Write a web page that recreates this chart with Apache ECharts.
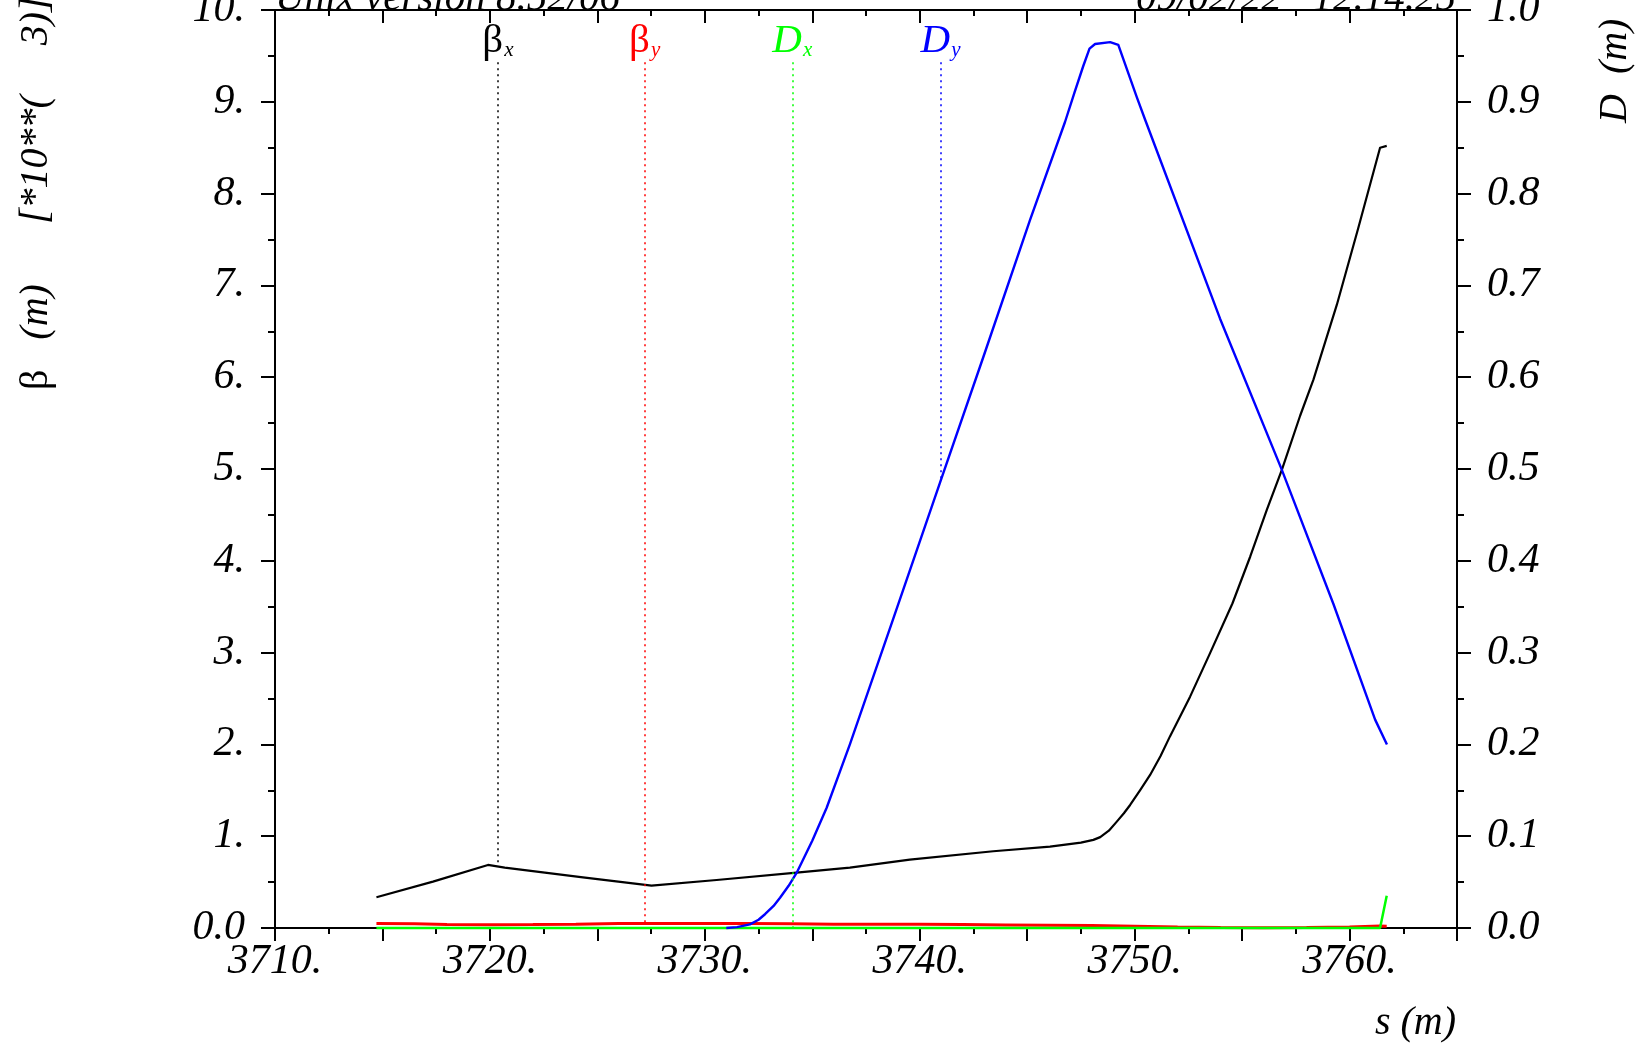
<!DOCTYPE html>
<html>
<head>
<meta charset="utf-8">
<script src="https://cdn.jsdelivr.net/npm/echarts@6/dist/echarts.min.js"></script>
<style>
html,body{margin:0;padding:0;background:#fff;}
#c{width:1648px;height:1044px;}
</style>
</head>
<body>
<div id="c"></div>
<script>
// ---- data (s in m; beta in 10^3 m; D in m) ----
const sBetx = [3714.72,3717.35,3719.91,3720.69,3724.33,3727.52,3730.55,3734.27,3736.75,3739.54,3743.42,3746.06,3747.5,3748.08,3748.4,3748.8,3749.17,3749.5,3749.79,3750.25,3750.72,3751.2,3751.65,3752.58,3753.51,3754.55,3755.38,3756.15,3756.85,3757.7,3758.32,3759.41,3760.4,3761.42,3761.73];
const betx  = [0.335,0.505,0.687,0.657,0.552,0.461,0.523,0.603,0.657,0.745,0.836,0.886,0.93,0.96,0.99,1.06,1.159,1.25,1.34,1.50,1.667,1.87,2.09,2.52,2.994,3.535,4.047,4.556,4.99,5.58,5.973,6.79,7.62,8.50,8.52];

const sBety = [3714.72,3716.5,3718,3720,3722,3724,3726,3728,3730,3732,3734,3736,3738,3740,3742,3744,3746,3748,3750,3752,3754,3756,3758,3760,3761.42,3761.73];
const bety  = [0.048,0.045,0.038,0.036,0.038,0.042,0.048,0.050,0.050,0.048,0.045,0.042,0.040,0.040,0.038,0.034,0.030,0.026,0.018,0.010,0.006,0.004,0.006,0.012,0.022,0.020];

const sDx = [3714.72,3761.42,3761.73];
const dx  = [0.0,0.0,0.035];

const sDy = [3731.0,3731.5,3732.1,3732.5,3732.8,3733.2,3733.5,3733.9,3734.27,3735.0,3735.67,3736.75,3738.77,3740.94,3742.96,3745.13,3746.76,3747.2,3747.61,3747.9,3748.16,3748.86,3749.24,3750.1,3750.48,3753.97,3756.85,3759.25,3761.19,3761.74];
const dy  = [0.0,0.001,0.004,0.009,0.015,0.024,0.033,0.046,0.060,0.095,0.131,0.200,0.337,0.485,0.622,0.771,0.878,0.910,0.939,0.958,0.963,0.965,0.962,0.905,0.881,0.664,0.499,0.353,0.227,0.200];

// marker (label) positions along s
const markerS = [3720.37, 3727.2, 3734.07, 3740.97];
const markerTopBeta = 9.43;   // left-axis units
const markerTopD = 0.943;     // right-axis units

const xMin = 3710, xMax = 3765;

function pairs(s, v){ return s.map((x,i)=>[x, v[i]]); }
function interp(s, v, x){
  if (x <= s[0]) return v[0];
  for (let i=1;i<s.length;i++){ if (x<=s[i]) { const t=(x-s[i-1])/(s[i]-s[i-1]); return v[i-1]+t*(v[i]-v[i-1]); } }
  return v[v.length-1];
}

const FONT = 'Liberation Serif';
const chart = echarts.init(document.getElementById('c'), null, {renderer:'canvas'});

function marker(color, x, top, end, txt){
  return {
    symbol:['none','none'], silent:true, animation:false,
    lineStyle:{color:color, type:[2,4], width:1.5},
    label:{show:true, position:'start', distance:1, formatter:txt,
      rich:{
        g:{fontFamily:FONT, fontSize:41, color:color, verticalAlign:'bottom'},
        gi:{fontFamily:FONT, fontSize:41, fontStyle:'italic', color:color, verticalAlign:'bottom'},
        s:{fontFamily:FONT, fontSize:21, fontStyle:'italic', color:color, verticalAlign:'bottom', padding:[0,0,0,1]}
      }},
    data:[[{coord:[x, top]},{coord:[x, end]}]]
  };
}

const axisLbl = {fontFamily:FONT, fontStyle:'italic', fontSize:42, color:'#000'};

const option = {
  animation:false,
  backgroundColor:'#fff',
  grid:{left:275, right:191, top:10, bottom:116, containLabel:false, outerBoundsMode:'none'},
  xAxis:[{
    type:'value', position:'bottom', min:xMin, max:xMax, interval:5,
    axisLine:{show:true, onZero:false, lineStyle:{color:'#000', width:2}},
    axisTick:{show:true, inside:false, length:13, lineStyle:{color:'#000', width:2}},
    minorTick:{show:true, splitNumber:2, length:6, lineStyle:{color:'#000', width:2}},
    splitLine:{show:false},
    axisLabel:{...axisLbl, margin:13, showMaxLabel:true, formatter:v => (Math.round(v)%10===0 && v<xMax) ? v+'.' : ''}
  },{
    type:'value', position:'top', min:xMin, max:xMax, interval:5,
    axisLine:{show:true, onZero:false, lineStyle:{color:'#000', width:2}},
    axisTick:{show:true, inside:true, length:13, lineStyle:{color:'#000', width:2}},
    minorTick:{show:true, splitNumber:2, length:6, lineStyle:{color:'#000', width:2}},
    splitLine:{show:false}, axisLabel:{show:false}
  }],
  yAxis:[{
    type:'value', position:'left', min:0, max:10, interval:1,
    axisLine:{show:true, onZero:false, lineStyle:{color:'#000', width:2}},
    axisTick:{show:true, inside:false, length:14, lineStyle:{color:'#000', width:2}},
    minorTick:{show:true, splitNumber:2, length:7, lineStyle:{color:'#000', width:2}},
    splitLine:{show:false},
    axisLabel:{...axisLbl, margin:30, formatter:v => v===0 ? '0.0' : v+'.'}
  },{
    type:'value', position:'right', min:0, max:1, interval:0.1,
    axisLine:{show:true, onZero:false, lineStyle:{color:'#000', width:2}},
    axisTick:{show:true, inside:false, length:14, lineStyle:{color:'#000', width:2}},
    minorTick:{show:true, splitNumber:2, length:7, lineStyle:{color:'#000', width:2}},
    splitLine:{show:false},
    axisLabel:{...axisLbl, margin:30, formatter:v => v.toFixed(1)}
  }],
  series:[{
    name:'betx', type:'line', xAxisIndex:0, yAxisIndex:0, data:pairs(sBetx,betx),
    showSymbol:false, clip:false, lineStyle:{color:'#000', width:2.2, join:'round'}, itemStyle:{color:'#000'},
    markLine: marker('#000', markerS[0], markerTopBeta, interp(sBetx,betx,markerS[0]), '{g|β}{s|x}')
  },{
    name:'bety', type:'line', xAxisIndex:0, yAxisIndex:0, data:pairs(sBety,bety),
    showSymbol:false, clip:false, lineStyle:{color:'#ff0000', width:3}, itemStyle:{color:'#ff0000'},
    markLine: marker('#ff0000', markerS[1], markerTopBeta, interp(sBety,bety,markerS[1]), '{g|β}{s|y}')
  },{
    name:'dx', type:'line', xAxisIndex:0, yAxisIndex:1, data:pairs(sDx,dx),
    showSymbol:false, clip:false, lineStyle:{color:'#00ff00', width:2.5}, itemStyle:{color:'#00ff00'},
    markLine: marker('#00ff00', markerS[2], markerTopD, interp(sDx,dx,markerS[2]), '{gi|D}{s|x}')
  },{
    name:'dy', type:'line', xAxisIndex:0, yAxisIndex:1, data:pairs(sDy,dy),
    showSymbol:false, clip:false, lineStyle:{color:'#0000ff', width:2.4, join:'round'}, itemStyle:{color:'#0000ff'},
    markLine: marker('#0000ff', markerS[3], markerTopD, interp(sDy,dy,markerS[3]), '{gi|D}{s|y}')
  }],
  graphic:[
    {type:'text', x:275, y:20, silent:true, style:{text:'Unix version 8.52/06', fontFamily:FONT, fontStyle:'italic', fontSize:41, fill:'#000', align:'left', verticalAlign:'bottom'}},
    {type:'text', x:1456, y:20, silent:true, style:{text:'09/02/22   12.14.25', fontFamily:FONT, fontStyle:'italic', fontSize:41, fill:'#000', align:'right', verticalAlign:'bottom'}},
    {type:'text', x:36, y:390, rotation:Math.PI/2, silent:true, style:{
      text:'{a|β}{b|   (m)      [*10**(     3)]}',
      align:'left', verticalAlign:'middle',
      rich:{a:{fontFamily:FONT, fontSize:40, fill:'#000'}, b:{fontFamily:FONT, fontStyle:'italic', fontSize:40, fill:'#000'}}
    }},
    {type:'text', x:1615, y:123, rotation:Math.PI/2, silent:true, style:{text:'D  (m)', fontFamily:FONT, fontStyle:'italic', fontSize:40, fill:'#000', align:'left', verticalAlign:'middle'}},
    {type:'text', x:1456, y:1023, silent:true, style:{text:'s (m)', fontFamily:FONT, fontStyle:'italic', fontSize:40, fill:'#000', align:'right', verticalAlign:'middle'}}
  ]
};
chart.setOption(option);
</script>
</body>
</html>
